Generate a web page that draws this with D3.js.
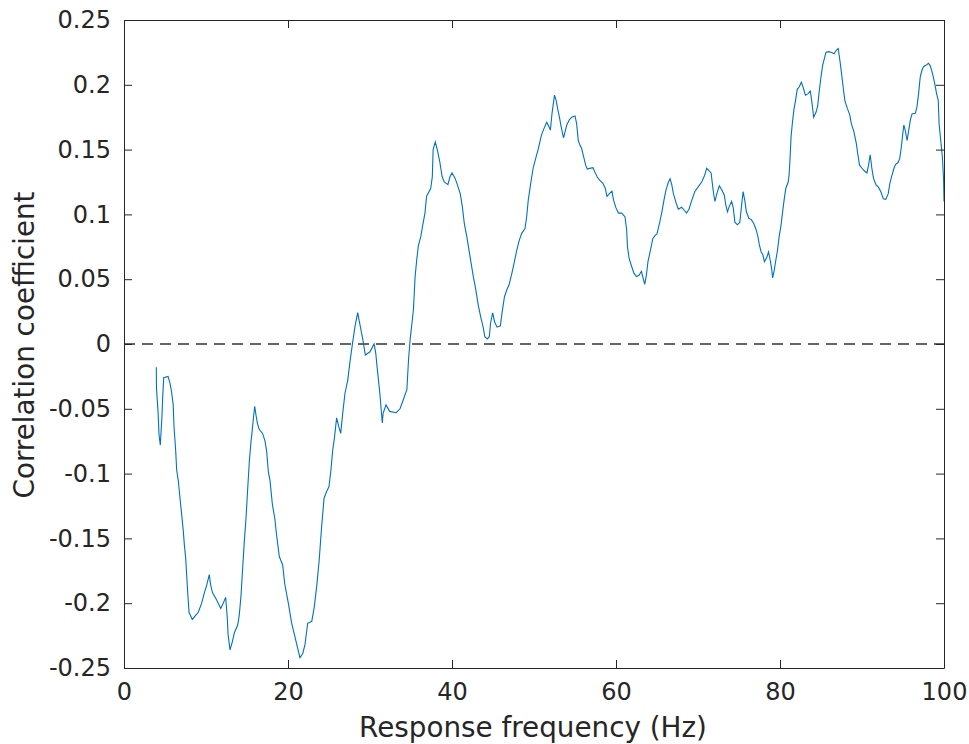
<!DOCTYPE html>
<html><head><meta charset="utf-8">
<script src="https://cdn.jsdelivr.net/npm/d3@7"></script>
<style>body{margin:0;background:#fff;} text{font-family:"DejaVu Sans",sans-serif;}</style>
</head><body>
<svg id="c" width="969" height="744"></svg>
<script>
const freq = [3.94,3.96,4.15,4.27,4.43,4.5,4.63,4.72,4.84,5.37,5.6,5.8,6.0,6.1,6.3,6.42,6.63,6.83,7.04,7.24,7.36,7.52,7.64,7.76,7.93,8.33,8.66,9.06,9.47,9.8,10.09,10.4,10.57,10.8,11.3,11.8,12.1,12.4,12.6,12.7,12.93,13.2,13.45,13.86,14.06,14.27,14.47,14.67,14.88,15.04,15.16,15.28,15.49,15.6,15.82,15.94,16.1,16.26,16.5,16.9,17.2,17.4,17.6,17.8,18.1,18.4,18.6,18.94,19.35,19.6,20.04,20.45,20.85,21.13,21.46,21.79,22.07,22.4,22.9,23.2,23.5,23.8,24.1,24.4,24.7,25.0,25.24,25.45,25.65,25.93,26.2,26.43,26.67,26.95,27.28,27.56,27.9,28.17,28.5,28.78,29.1,29.43,30.0,30.5,30.7,30.9,31.2,31.5,31.6,31.95,32.4,33.2,33.66,34.06,34.5,34.7,34.9,35.1,35.3,35.5,35.7,35.9,36.2,36.4,36.7,36.9,37.4,37.6,37.7,37.96,38.2,38.5,38.8,39.06,39.5,39.75,40.0,40.37,40.65,41.0,41.26,41.5,41.8,42.07,42.3,42.6,42.9,43.2,43.5,43.8,44.0,44.3,44.55,44.7,44.96,45.2,45.5,45.9,46.1,46.4,46.7,46.95,47.3,47.56,47.9,48.2,48.5,48.9,49.1,49.3,49.6,49.9,50.2,50.5,50.9,51.2,51.55,51.8,52.0,52.2,52.5,52.7,52.9,53.1,53.3,53.6,53.8,54.0,54.3,54.6,55.0,55.2,55.4,55.6,55.8,56.0,56.3,56.5,56.8,57.2,57.4,57.7,58.0,58.4,58.7,58.9,59.2,59.5,59.7,60.0,60.3,60.7,61.1,61.3,61.4,61.6,61.9,62.2,62.5,62.8,63.1,63.3,63.5,63.7,63.9,64.2,64.5,64.8,65.0,65.3,65.6,65.85,66.1,66.4,66.6,66.8,67.0,67.3,67.6,68.0,68.3,68.6,68.9,69.2,69.6,70.0,70.45,70.8,71.06,71.3,71.6,71.8,71.95,72.07,72.3,72.6,72.9,73.2,73.4,73.6,73.8,74.1,74.3,74.5,74.8,75.1,75.3,75.5,75.7,75.9,76.2,76.5,76.8,77.1,77.3,77.5,77.7,77.9,78.1,78.4,78.6,78.8,79.0,79.1,79.3,79.5,79.7,79.9,80.1,80.3,80.5,80.7,81.0,81.1,81.2,81.35,81.5,81.7,81.9,82.1,82.35,82.6,82.8,83.1,83.4,83.7,83.9,84.1,84.4,84.6,84.8,85.0,85.2,85.4,85.6,85.9,86.3,86.6,86.9,87.1,87.3,87.5,87.7,87.9,88.2,88.5,88.7,89.0,89.3,89.5,89.7,90.0,90.3,90.6,90.8,91.0,91.2,91.4,91.7,92.0,92.3,92.6,92.9,93.2,93.4,93.6,93.9,94.1,94.4,94.6,94.8,94.95,95.1,95.3,95.5,95.7,95.9,96.1,96.5,96.7,96.9,97.1,97.3,97.5,97.8,98.1,98.3,98.5,98.7,98.9,99.1,99.3,99.4,99.6,99.8,99.95,100.0];
const corr = [-0.018,-0.034,-0.052,-0.070,-0.078,-0.070,-0.056,-0.041,-0.026,-0.025,-0.030,-0.037,-0.047,-0.064,-0.082,-0.097,-0.106,-0.119,-0.132,-0.145,-0.155,-0.165,-0.178,-0.191,-0.207,-0.2125,-0.210,-0.207,-0.200,-0.192,-0.186,-0.178,-0.186,-0.192,-0.1975,-0.204,-0.200,-0.1955,-0.212,-0.2245,-0.236,-0.230,-0.223,-0.217,-0.209,-0.194,-0.173,-0.1525,-0.1345,-0.1165,-0.1036,-0.091,-0.075,-0.069,-0.055,-0.048,-0.055,-0.061,-0.066,-0.069,-0.075,-0.083,-0.0985,-0.105,-0.124,-0.135,-0.147,-0.164,-0.1705,-0.185,-0.200,-0.2155,-0.226,-0.2335,-0.242,-0.239,-0.232,-0.2155,-0.214,-0.203,-0.187,-0.167,-0.141,-0.119,-0.114,-0.110,-0.097,-0.082,-0.073,-0.057,-0.064,-0.069,-0.0535,-0.038,-0.028,-0.0136,0.002,0.0134,0.0242,0.0147,0.0044,-0.0085,-0.006,0.0,-0.007,-0.020,-0.038,-0.061,-0.0535,-0.047,-0.052,-0.053,-0.050,-0.043,-0.035,-0.012,0.004,0.015,0.027,0.052,0.065,0.076,0.083,0.0905,0.101,0.114,0.120,0.129,0.150,0.156,0.150,0.141,0.129,0.125,0.123,0.129,0.132,0.128,0.123,0.116,0.106,0.093,0.083,0.0725,0.0635,0.052,0.042,0.030,0.021,0.013,0.0056,0.0039,0.0056,0.016,0.024,0.017,0.013,0.014,0.024,0.0365,0.042,0.0455,0.0545,0.062,0.0725,0.080,0.0854,0.089,0.098,0.111,0.124,0.136,0.143,0.150,0.161,0.166,0.171,0.168,0.165,0.178,0.192,0.188,0.181,0.175,0.168,0.159,0.164,0.169,0.173,0.175,0.176,0.170,0.157,0.1535,0.151,0.146,0.138,0.135,0.1355,0.136,0.133,0.129,0.1265,0.124,0.120,0.114,0.116,0.118,0.111,0.105,0.101,0.101,0.098,0.088,0.075,0.066,0.060,0.0545,0.052,0.053,0.056,0.051,0.046,0.053,0.0635,0.0725,0.0815,0.084,0.085,0.093,0.102,0.111,0.119,0.125,0.1275,0.123,0.116,0.1095,0.104,0.1055,0.1034,0.101,0.104,0.110,0.1175,0.121,0.125,0.130,0.1356,0.134,0.132,0.121,0.114,0.110,0.116,0.122,0.119,0.115,0.107,0.102,0.106,0.110,0.105,0.094,0.092,0.094,0.106,0.1175,0.111,0.102,0.097,0.096,0.093,0.088,0.083,0.076,0.071,0.069,0.0635,0.067,0.071,0.065,0.057,0.051,0.057,0.065,0.0725,0.083,0.0905,0.101,0.111,0.120,0.125,0.130,0.140,0.160,0.170,0.181,0.188,0.1965,0.1985,0.202,0.1985,0.192,0.193,0.195,0.186,0.175,0.179,0.184,0.196,0.206,0.215,0.220,0.225,0.2256,0.225,0.224,0.227,0.228,0.219,0.209,0.1985,0.188,0.182,0.177,0.170,0.164,0.155,0.146,0.138,0.1356,0.1335,0.132,0.138,0.146,0.1356,0.128,0.123,0.121,0.1175,0.112,0.1116,0.116,0.124,0.129,0.1356,0.1386,0.140,0.143,0.152,0.161,0.169,0.164,0.157,0.165,0.173,0.1775,0.178,0.183,0.193,0.206,0.211,0.214,0.215,0.2166,0.215,0.211,0.206,0.200,0.193,0.188,0.170,0.157,0.1445,0.127,0.110];
const xTicks = [0,20,40,60,80,100];
const yTicks = [-0.25,-0.2,-0.15,-0.1,-0.05,0,0.05,0.1,0.15,0.2,0.25];
const yTickLabels = ["-0.25","-0.2","-0.15","-0.1","-0.05","0","0.05","0.1","0.15","0.2","0.25"];
const xLabel = "Response frequency (Hz)";
const yLabel = "Correlation coefficient";

const L=124, R=944, T=20, B=668;
const svg = d3.select("#c");
const x = d3.scaleLinear().domain([0,100]).range([L,R]);
const y = d3.scaleLinear().domain([-0.25,0.25]).range([B,T]);
const ink = "#262626";

// zero reference
svg.append("line").attr("x1",x(0)).attr("x2",x(100)).attr("y1",y(0)).attr("y2",y(0))
  .attr("stroke","#333").attr("stroke-width",1.4).attr("stroke-dasharray","11,7");

// series line
const pts = freq.map((f,i)=>[f,corr[i]]);
svg.append("path").datum(pts)
  .attr("d", d3.line().x(d=>x(d[0])).y(d=>y(d[1])))
  .attr("fill","none").attr("stroke","#0072BD").attr("stroke-width",1.1);

// axes
const tickLen = 8;
const gx = svg.append("g").attr("transform",`translate(0,${B})`)
  .call(d3.axisBottom(x).tickValues(xTicks).tickSizeInner(-tickLen).tickSizeOuter(0).tickPadding(15).tickFormat(d3.format("d")));
const gxt = svg.append("g").attr("transform",`translate(0,${T})`)
  .call(d3.axisTop(x).tickValues(xTicks).tickSizeInner(-tickLen).tickSizeOuter(0).tickFormat(""));
const gy = svg.append("g").attr("transform",`translate(${L},0)`)
  .call(d3.axisLeft(y).tickValues(yTicks).tickSizeInner(-tickLen).tickSizeOuter(0).tickPadding(13).tickFormat((d,i)=>yTickLabels[i]));
const gyr = svg.append("g").attr("transform",`translate(${R},0)`)
  .call(d3.axisRight(y).tickValues(yTicks).tickSizeInner(-tickLen).tickSizeOuter(0).tickFormat(""));
[gx,gxt,gy,gyr].forEach(g=>{
  g.selectAll("path").attr("stroke",ink).attr("stroke-width",1);
  g.selectAll("line").attr("stroke",ink).attr("stroke-width",1);
  g.selectAll("text").attr("fill",ink).style("font-size","24px").style("font-family","DejaVu Sans");
});
gx.selectAll("text").attr("dy","0.71em");

svg.append("text").attr("x",533).attr("y",737).attr("text-anchor","middle")
  .attr("fill",ink).style("font-size","27.8px").text(xLabel);
svg.append("text").attr("transform",`translate(34,345) rotate(-90)`).attr("text-anchor","middle")
  .attr("fill",ink).style("font-size","27.8px").text(yLabel);
</script>
</body></html>
